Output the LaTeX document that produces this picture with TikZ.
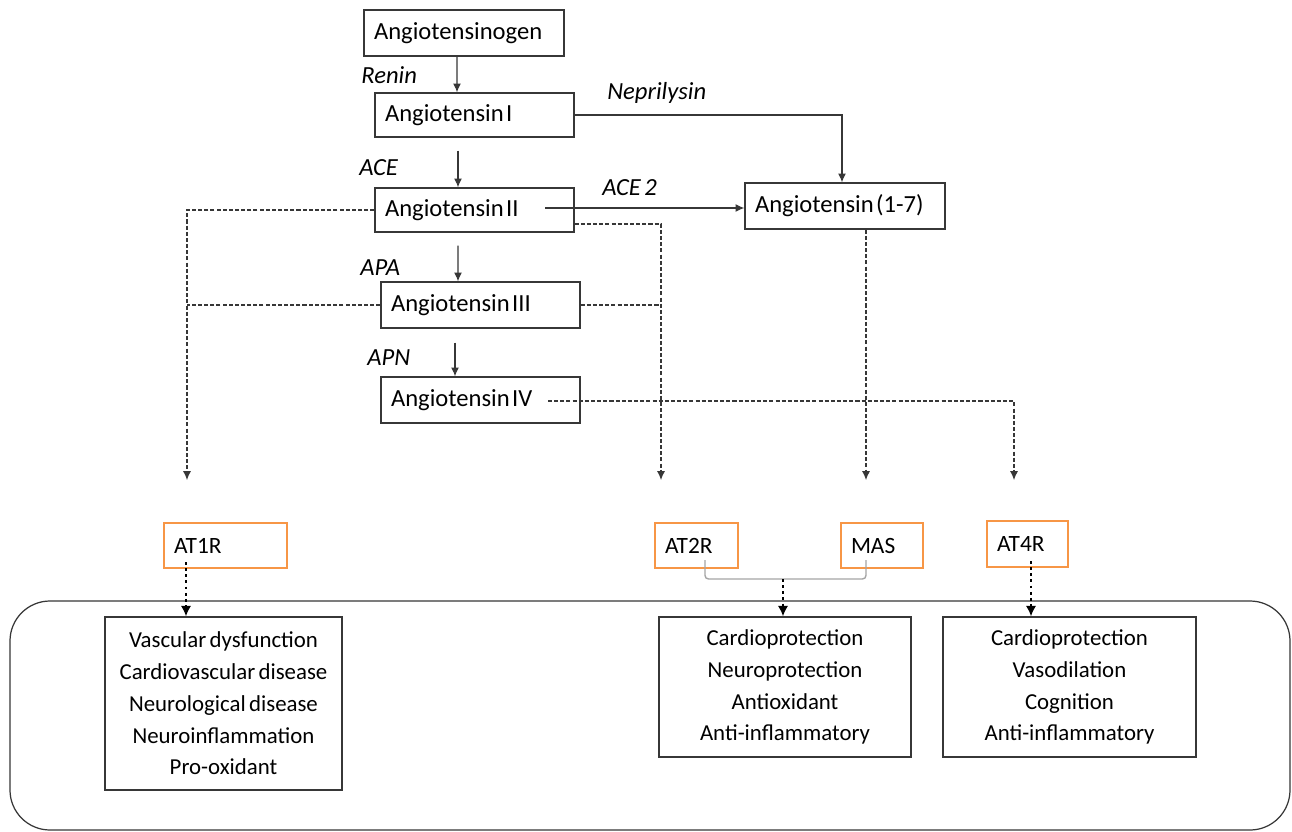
\documentclass[tikz,border=0pt]{standalone}
\usepackage{fontspec}
\setmainfont{Carlito}[WordSpace=0.65]
\usetikzlibrary{arrows.meta}
\definecolor{orng}{RGB}{247,150,70}
\definecolor{lgray}{RGB}{165,165,165}
\definecolor{dgray}{RGB}{55,55,55}
\newcommand{\tsp}{\hspace{0.1em}}
\tikzset{
  topbox/.style={draw=dgray, line width=0.8pt, text width=3.6cm, inner xsep=0.2cm, inner ysep=0pt, align=left, font=\fontsize{14}{16}\selectfont},
  recbox/.style={draw=orng, line width=0.7pt, inner xsep=0.2cm, inner ysep=0pt, align=left, font=\fontsize{13.3}{16}\selectfont},
  effbox/.style={draw=dgray, line width=0.8pt, inner sep=0pt, align=center, font=\fontsize{13}{18.1}\selectfont},
  enz/.style={font=\fontsize{14}{16}\selectfont\itshape, anchor=west, inner sep=0pt},
  arr/.style={draw=dgray, line width=0.6pt, -{Latex[length=5pt,width=4.5pt]}},
  dsh/.style={draw=dgray, line width=0.65pt, dash pattern=on 2.3pt off 1.2pt},
  dsharr/.style={dsh, -{Latex[length=5pt,width=4.5pt]}},
  dotarr/.style={draw=black, line width=1.5pt, dash pattern=on 1.6pt off 1.9pt, -{Latex[length=6pt,width=6pt]}},
  conn/.style={draw=lgray, line width=0.8pt, rounded corners=2pt}
}
\begin{document}
\begin{tikzpicture}[x=0.02cm,y=-0.02cm]
\fill[white] (0,0) rectangle (1292,832);
\useasboundingbox (0,0) rectangle (1292,832);
% outer rounded frame
\draw[dgray, line width=0.7pt, rounded corners=0.8cm] (10,601) rectangle (1290,830);
% cascade boxes
\node[topbox, minimum height=0.92cm] (ag) at (464,33) {Angiotensinogen};
\node[topbox, text width=3.58cm, minimum height=0.88cm] (a1) at (474.5,115) {Angiotensin\tsp I};
\node[topbox, text width=3.58cm, minimum height=0.88cm] (a2) at (474.5,210) {Angiotensin\tsp II};
\node[topbox, text width=3.58cm, minimum height=0.92cm] (a3) at (480.5,305) {Angiotensin\tsp III};
\node[topbox, text width=3.58cm, minimum height=0.92cm] (a4) at (480.5,400) {Angiotensin\tsp IV};
\node[topbox, minimum height=0.92cm] (a17) at (845,206) {Angiotensin\tsp (1-7)};
% enzyme labels
\node[enz] (renin) at (361,75) {Renin};
\node[enz] (ace) at (359,168) {ACE};
\node[enz] (apa) at (360,268) {APA};
\node[enz] (apn) at (367,358) {APN};
\node[enz] (nep) at (607,93) {Neprilysin};
\node[enz] (ace2) at (602,188) {ACE 2};
% receptors
\node[recbox, text width=2.06cm, minimum height=0.9cm] (at1) at (225.5,545.5) {AT1R};
\node[recbox, text width=1.26cm, minimum height=0.9cm] (at2) at (696.5,545.5) {AT2R};
\node[recbox, text width=1.24cm, minimum height=0.9cm] (mas) at (882,545.5) {MAS};
\node[recbox, text width=1.22cm, minimum height=0.92cm] (at4) at (1027.5,544) {AT4R};
% effect boxes
\node[effbox, minimum width=4.74cm, minimum height=3.46cm] (e1) at (223.5,703.5) {Vascular dysfunction\\Cardiovascular disease\\Neurological disease\\Neuroinflammation\\Pro-oxidant};
\node[effbox, minimum width=5.04cm, minimum height=2.8cm] (e2) at (785,687) {Cardioprotection\\Neuroprotection\\Antioxidant\\Anti-inflammatory};
\node[effbox, minimum width=5.06cm, minimum height=2.8cm] (e3) at (1069.5,687) {Cardioprotection\\Vasodilation\\Cognition\\Anti-inflammatory};
% coordinates
\coordinate (c2) at (545,208);
\coordinate (c4) at (548,401);
\coordinate (t1) at (187,480);
\coordinate (t2) at (661,480);
\coordinate (t3) at (866,480);
\coordinate (t4) at (1014,480);
\coordinate (d1) at (186,562);
\coordinate (d4) at (1031,561);
\coordinate (g1) at (705,560);
\coordinate (g2) at (866,560);
\coordinate (gm) at (783,579);
% solid cascade arrows
\draw[arr] ([xshift=-0.14cm]ag.south) -- ([xshift=-0.35cm]a1.north);
\draw[arr] ([xshift=-0.33cm,yshift=-0.26cm]a1.south) -- ([xshift=-0.33cm]a2.north);
\draw[arr] ([xshift=-0.33cm,yshift=-0.26cm]a2.south) -- ([xshift=-0.45cm]a3.north);
\draw[arr] ([xshift=-0.51cm,yshift=-0.28cm]a3.south) -- ([xshift=-0.51cm]a4.north);
\draw[arr] (a1.east) -| ([xshift=-0.06cm]a17.north);
\draw[arr] (c2) -- (c2 -| a17.west);
% dashed receptor connectors
\draw[dsharr] (a2.west) -| (t1);
\draw[dsh] (a3.west) -- (a3.west -| t1);
\draw[dsharr] ([yshift=-0.28cm]a2.east) -| (t2);
\draw[dsh] (a3.east) -- (a3.east -| t2);
\draw[dsharr] (a17.south -| t3) -- (t3);
\draw[dsharr] (c4) -| (t4);
% receptor to effect
\draw[conn] (g1) |- (gm) -| (g2);
\draw[dotarr] (d1) -- (d1 |- e1.north);
\draw[dotarr] (gm) -- (gm |- e2.north);
\draw[dotarr] (d4) -- (d4 |- e3.north);
\end{tikzpicture}
\end{document}
